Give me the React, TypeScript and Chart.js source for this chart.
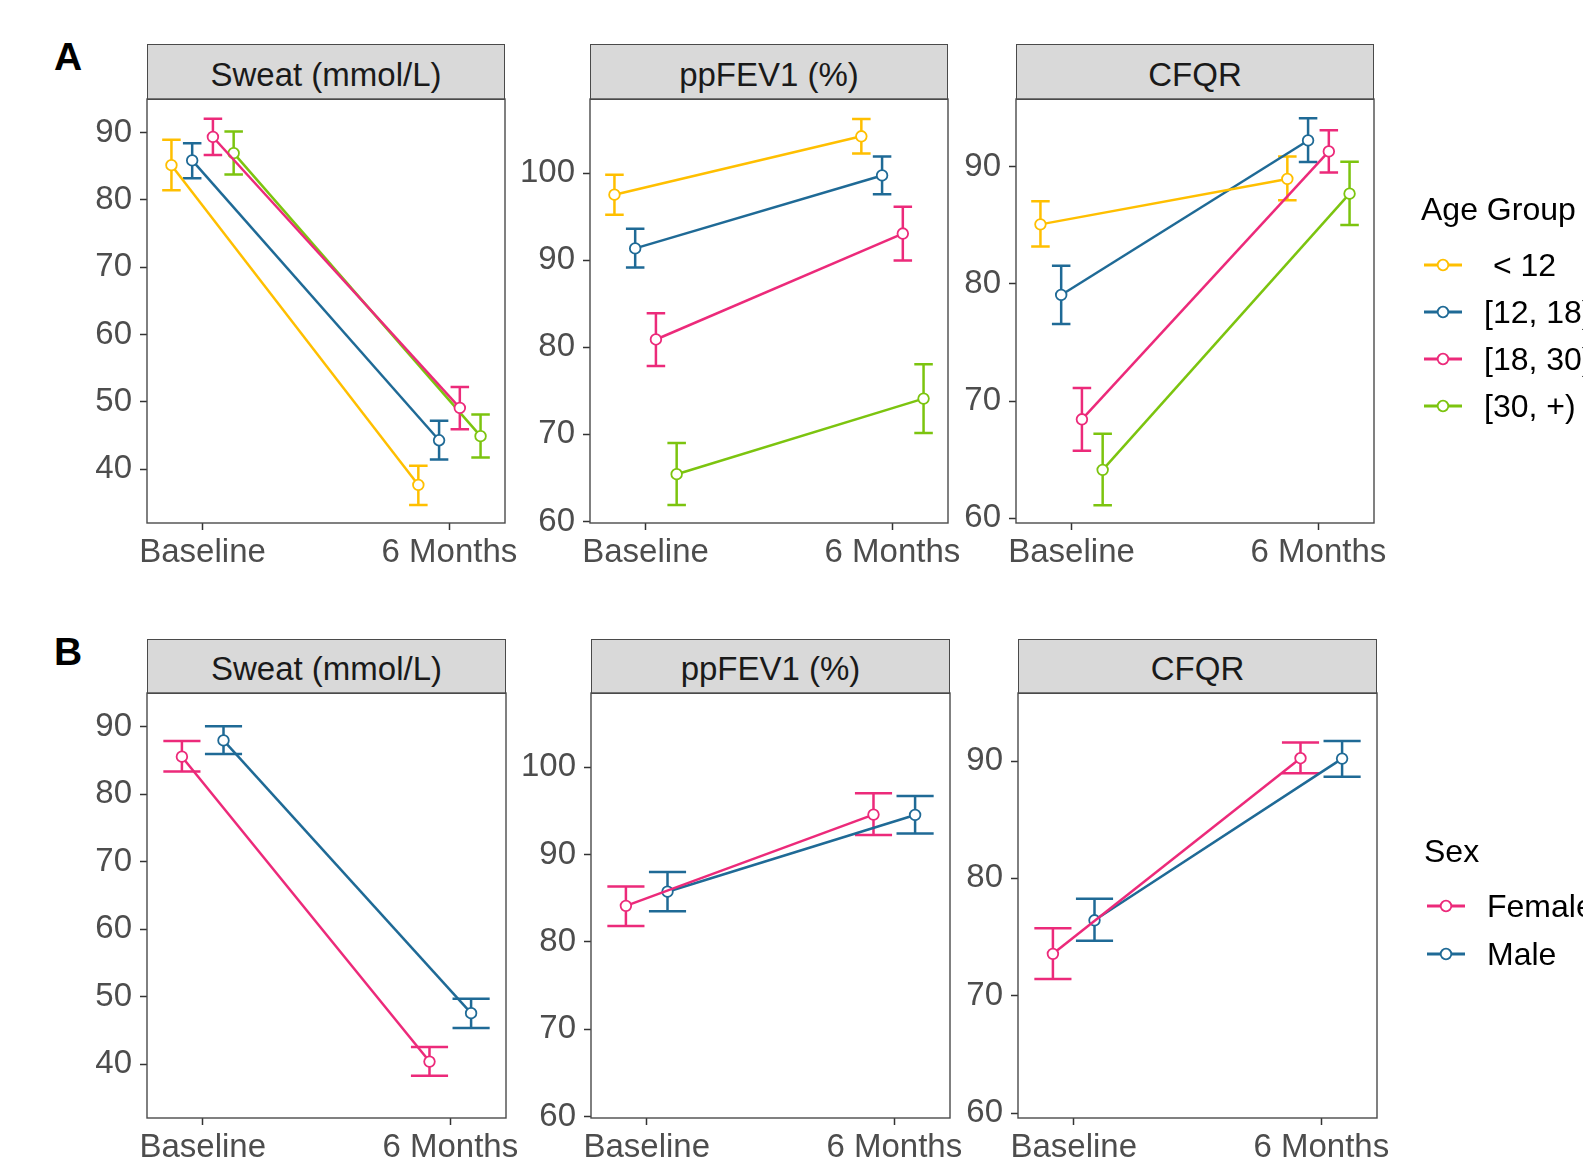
import React, { useEffect, useRef } from "react";
import { Chart, registerables } from "chart.js";

Chart.register(...registerables);

// ---------------- data ----------------
const categories = ["Baseline", "6 Months"];

const ageGroups = [" < 12", "[12, 18)", "[18, 30)", "[30, +)"];
const ageColors = ["#FFBF00", "#1F6A96", "#EC2A7A", "#7CC40F"];

const sexGroups = ["Female", "Male"];
const sexColors = ["#EC2A7A", "#1F6A96"];

const sweatTicks = [40, 50, 60, 70, 80, 90];
const fevTicks = [60, 70, 80, 90, 100];
const cfqrTicks = [60, 70, 80, 90];

// Panel A: by age group ([Baseline, 6 Months] per group)
const ageSweatMean = [[85.15, 37.65], [85.86, 44.29], [89.34, 49.09], [86.94, 44.9]];
const ageSweatLow = [[81.42, 34.69], [83.2, 41.43], [86.68, 45.92], [83.77, 41.74]];
const ageSweatHigh = [[88.93, 40.5], [88.4, 47.2], [92.04, 52.2], [90.15, 48.12]];

const ageFevMean = [[97.51, 104.22], [91.35, 99.72], [80.89, 93.05], [65.42, 74.1]];
const ageFevLow = [[95.22, 102.25], [89.14, 97.55], [77.85, 89.97], [61.9, 70.15]];
const ageFevHigh = [[99.8, 106.2], [93.6, 101.9], [83.89, 96.13], [69.0, 78.05]];

const ageCfqrMean = [[85.09, 88.97], [79.06, 92.26], [68.44, 91.32], [64.12, 87.71]];
const ageCfqrLow = [[83.21, 87.15], [76.59, 90.41], [65.76, 89.53], [61.09, 85.03]];
const ageCfqrHigh = [[87.06, 90.88], [81.56, 94.15], [71.12, 93.12], [67.21, 90.44]];

// Panel B: by sex
const sexSweatMean = [[85.54, 40.36], [87.95, 47.53]];
const sexSweatLow = [[83.34, 38.27], [85.95, 45.33]];
const sexSweatHigh = [[87.85, 42.52], [90.05, 49.68]];

const sexFevMean = [[84.12, 94.57], [85.74, 94.53]];
const sexFevLow = [[81.82, 92.24], [83.49, 92.4]];
const sexFevHigh = [[86.34, 97.03], [88.0, 96.71]];

const sexCfqrMean = [[73.57, 90.24], [76.43, 90.21]];
const sexCfqrLow = [[71.42, 88.97], [74.69, 88.67]];
const sexCfqrHigh = [[75.75, 91.59], [78.26, 91.71]];

// ---------------- style / layout constants ----------------
const FONT = "'Liberation Sans', Arial, Helvetica, sans-serif";
const DODGE_WIDTH = 0.336; // position_dodge width
const ERRORBAR_WIDTH = 0.3; // errorbar width (split among dodged groups)
const X_MIN = 0.775;
const X_MAX = 2.225;
const YW = 90; // y-axis area width
const PT = 12; // canvas padding above plot
const PR = 80; // canvas padding right of plot
const XH = 56; // x-axis area height

const errorBarPlugin = {
  id: "errorBars",
  beforeDatasetsDraw(chart: any) {
    const ctx = chart.ctx;
    const xs = chart.scales.x;
    const ys = chart.scales.y;
    chart.data.datasets.forEach((ds: any, i: number) => {
      const meta = chart.getDatasetMeta(i);
      const half = Math.abs(xs.getPixelForValue(1 + ds.capWidth / 2) - xs.getPixelForValue(1));
      ctx.save();
      ctx.strokeStyle = ds.borderColor;
      ctx.lineWidth = 2.5;
      ctx.lineCap = "butt";
      meta.data.forEach((pt: any, j: number) => {
        const x = pt.x;
        const yl = ys.getPixelForValue(ds.low[j]);
        const yh = ys.getPixelForValue(ds.high[j]);
        ctx.beginPath();
        ctx.moveTo(x, yl);
        ctx.lineTo(x, yh);
        ctx.moveTo(x - half, yl);
        ctx.lineTo(x + half, yl);
        ctx.moveTo(x - half, yh);
        ctx.lineTo(x + half, yh);
        ctx.stroke();
      });
      ctx.restore();
    });
  },
};

const borderPlugin = {
  id: "panelBorder",
  afterDraw(chart: any) {
    const { ctx, chartArea } = chart;
    ctx.save();
    ctx.strokeStyle = "#4a4a4a";
    ctx.lineWidth = 1.4;
    ctx.strokeRect(chartArea.left, chartArea.top, chartArea.right - chartArea.left, chartArea.bottom - chartArea.top);
    ctx.restore();
  },
};

type PanelProps = {
  left: number;
  top: number;
  width: number;
  height: number;
  stripTop: number;
  title: string;
  yMin: number;
  yMax: number;
  yTicks: number[];
  groups: string[];
  colors: string[];
  means: number[][];
  lows: number[][];
  highs: number[][];
};

function Panel(p: PanelProps) {
  const ref = useRef<HTMLCanvasElement>(null);
  useEffect(() => {
    const n = p.groups.length;
    const datasets = p.groups.map((g, i) => {
      const off = (i - (n - 1) / 2) * (DODGE_WIDTH / n);
      return {
        label: g,
        data: p.means[i].map((v, j) => ({ x: j + 1 + off, y: v })),
        low: p.lows[i],
        high: p.highs[i],
        capWidth: ERRORBAR_WIDTH / n,
        borderColor: p.colors[i],
        backgroundColor: p.colors[i],
        borderWidth: 2.5,
        pointRadius: 5.3,
        pointHoverRadius: 5.3,
        pointBackgroundColor: "#ffffff",
        pointBorderColor: p.colors[i],
        pointBorderWidth: 1.8,
        tension: 0,
        fill: false,
      };
    });
    const tickFont = { family: FONT, size: 33 };
    const chart = new Chart(ref.current as HTMLCanvasElement, {
      type: "line",
      data: { datasets } as any,
      options: {
        animation: false,
        responsive: false,
        maintainAspectRatio: false,
        layout: { padding: { left: 0, top: PT, right: PR, bottom: 0 } },
        plugins: { legend: { display: false }, tooltip: { enabled: false } },
        scales: {
          x: {
            type: "linear",
            min: X_MIN,
            max: X_MAX,
            afterBuildTicks: (s: any) => {
              s.ticks = categories.map((_, i) => ({ value: i + 1 }));
            },
            afterFit: (s: any) => {
              s.height = XH;
              s.paddingLeft = 0;
              s.paddingRight = 0;
            },
            ticks: {
              callback: (_v: any, i: number) => categories[i],
              autoSkip: false,
              maxRotation: 0,
              minRotation: 0,
              padding: 3,
              color: "#4D4D4D",
              font: tickFont,
            },
            grid: { drawOnChartArea: false, drawTicks: true, tickLength: 7, tickWidth: 1.5, tickColor: "#333333" },
            border: { display: false },
          },
          y: {
            type: "linear",
            min: p.yMin,
            max: p.yMax,
            afterBuildTicks: (s: any) => {
              s.ticks = p.yTicks.map((v) => ({ value: v }));
            },
            afterFit: (s: any) => {
              s.width = YW;
              s.paddingTop = 0;
              s.paddingBottom = 0;
            },
            ticks: {
              autoSkip: false,
              padding: 8,
              color: "#4D4D4D",
              font: tickFont,
            },
            grid: { drawOnChartArea: false, drawTicks: true, tickLength: 7, tickWidth: 1.5, tickColor: "#333333" },
            border: { display: false },
          },
        },
      } as any,
      plugins: [errorBarPlugin, borderPlugin],
    });
    return () => chart.destroy();
  }, []);

  return (
    <>
      <div
        style={{
          position: "absolute",
          left: p.left,
          top: p.stripTop,
          width: p.width,
          height: p.top - p.stripTop + 1,
          boxSizing: "border-box",
          background: "#D9D9D9",
          border: "1.4px solid #4a4a4a",
          display: "flex",
          alignItems: "center",
          justifyContent: "center",
          fontFamily: FONT,
          fontSize: 33,
          color: "#1A1A1A",
          lineHeight: 1,
          paddingTop: 4,
        }}
      >
        {p.title}
      </div>
      <canvas
        ref={ref}
        width={YW + p.width + PR}
        height={PT + p.height + XH}
        style={{ position: "absolute", left: p.left - YW, top: p.top - PT }}
      />
    </>
  );
}

function Legend(props: { left: number; titleY: number; itemYs: number[]; title: string; labels: string[]; colors: string[] }) {
  const { left, titleY, itemYs, title, labels, colors } = props;
  return (
    <>
      <div
        style={{
          position: "absolute",
          left: left,
          top: titleY - 16,
          fontFamily: FONT,
          fontSize: 32,
          lineHeight: 1,
          color: "#000",
          whiteSpace: "pre",
        }}
      >
        {title}
      </div>
      {labels.map((lab, i) => (
        <React.Fragment key={lab}>
          <svg
            width={40}
            height={16}
            style={{ position: "absolute", left: left + 3, top: itemYs[i] - 8 }}
          >
            <line x1={0} y1={8} x2={38} y2={8} stroke={colors[i]} strokeWidth={3} />
            <circle cx={19} cy={8} r={5.3} fill="#fff" stroke={colors[i]} strokeWidth={1.8} />
          </svg>
          <div
            style={{
              position: "absolute",
              left: left + 63,
              top: itemYs[i] - 16,
              fontFamily: FONT,
              fontSize: 32,
              lineHeight: 1,
              color: "#000",
              whiteSpace: "pre",
            }}
          >
            {lab}
          </div>
        </React.Fragment>
      ))}
    </>
  );
}

export default function App() {
  const rowA = { stripTop: 44, top: 99, height: 424, lefts: [147, 590, 1016], width: 358 };
  const rowB = { stripTop: 639, top: 693, height: 425, lefts: [147, 591, 1018], width: 359 };
  const sweat = { title: "Sweat (mmol/L)", yMin: 32.0, yMax: 94.98, yTicks: sweatTicks };
  const fev = { title: "ppFEV1 (%)", yMin: 59.82, yMax: 108.5, yTicks: fevTicks };
  const cfqr = { title: "CFQR", yMin: 59.58, yMax: 95.8, yTicks: cfqrTicks };

  const aData = [
    [ageSweatMean, ageSweatLow, ageSweatHigh],
    [ageFevMean, ageFevLow, ageFevHigh],
    [ageCfqrMean, ageCfqrLow, ageCfqrHigh],
  ];
  const bData = [
    [sexSweatMean, sexSweatLow, sexSweatHigh],
    [sexFevMean, sexFevLow, sexFevHigh],
    [sexCfqrMean, sexCfqrLow, sexCfqrHigh],
  ];
  const facets = [sweat, fev, cfqr];

  return (
    <div
      style={{
        position: "absolute",
        left: 0,
        top: 0,
        width: 1583,
        height: 1162,
        overflow: "hidden",
        background: "#ffffff",
      }}
    >
      <div style={{ position: "absolute", left: 54, top: 37, fontFamily: FONT, fontWeight: "bold", fontSize: 39, lineHeight: 1, color: "#000" }}>A</div>
      <div style={{ position: "absolute", left: 54, top: 632, fontFamily: FONT, fontWeight: "bold", fontSize: 39, lineHeight: 1, color: "#000" }}>B</div>

      {facets.map((f, k) => (
        <Panel
          key={"a" + k}
          left={rowA.lefts[k]}
          top={rowA.top}
          width={rowA.width}
          height={rowA.height}
          stripTop={rowA.stripTop}
          title={f.title}
          yMin={f.yMin}
          yMax={f.yMax}
          yTicks={f.yTicks}
          groups={ageGroups}
          colors={ageColors}
          means={aData[k][0]}
          lows={aData[k][1]}
          highs={aData[k][2]}
        />
      ))}
      {facets.map((f, k) => (
        <Panel
          key={"b" + k}
          left={rowB.lefts[k]}
          top={rowB.top}
          width={rowB.width}
          height={rowB.height}
          stripTop={rowB.stripTop}
          title={f.title}
          yMin={f.yMin}
          yMax={f.yMax}
          yTicks={f.yTicks}
          groups={sexGroups}
          colors={sexColors}
          means={bData[k][0]}
          lows={bData[k][1]}
          highs={bData[k][2]}
        />
      ))}

      <Legend left={1421} titleY={209} itemYs={[265, 312, 359, 406]} title="Age Group" labels={ageGroups} colors={ageColors} />
      <Legend left={1424} titleY={851} itemYs={[906, 954]} title="Sex" labels={sexGroups} colors={sexColors} />
    </div>
  );
}
